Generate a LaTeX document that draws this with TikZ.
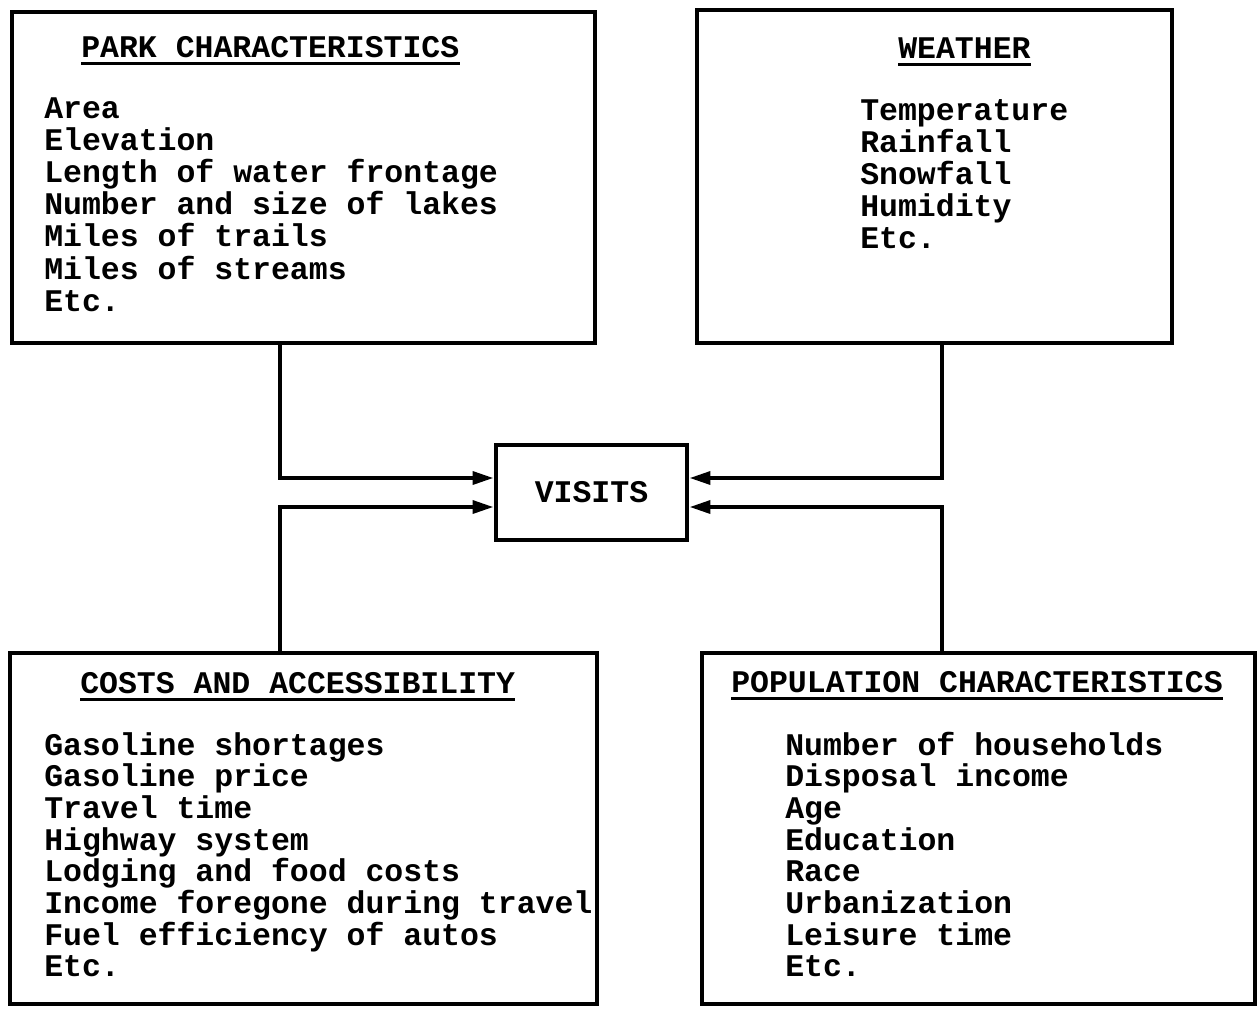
\documentclass[tikz,border=0pt]{standalone}
\usepackage{fontspec}
\setmonofont{Liberation Mono}
\usetikzlibrary{arrows.meta}
\begin{document}
\begin{tikzpicture}[x=0.025cm,y=-0.025cm,
  box/.style={draw, line width=3.4pt, rectangle, inner sep=0pt},
  txt/.style={font=\ttfamily\bfseries\fontsize{22.4}{26}\selectfont, inner sep=0pt, anchor=base west},
  conn/.style={line width=3pt, -{Triangle[length=15pt,width=9pt]}},
  uline/.style={line width=2.2pt}]
\useasboundingbox (0,0) rectangle (1260,1008);
\fill[white] (0,0) rectangle (1260,1008);

% boxes
\node[box, minimum width=14.575cm, minimum height=8.275cm] (park) at (303.5,177.5) {};
\node[box, minimum width=11.875cm, minimum height=8.325cm] (weather) at (934.5,176.5) {};
\node[box, minimum width=14.675cm, minimum height=8.775cm] (costs) at (303.5,828.5) {};
\node[box, minimum width=13.825cm, minimum height=8.775cm] (pop) at (978.5,828.5) {};
\node[box, line width=3.2pt, minimum width=4.775cm, minimum height=2.375cm,
      font=\ttfamily\bfseries\fontsize{22.4}{26}\selectfont] (visits) at (591.5,492.5) {VISITS};

% headings
\node[txt] (parkhead) at (81,57) {PARK CHARACTERISTICS};
\node[txt] (weatherhead) at (898,58) {WEATHER};
\node[txt] (costshead) at (80,693) {COSTS AND ACCESSIBILITY};
\node[txt] (pophead) at (731,692) {POPULATION CHARACTERISTICS};
\foreach \h in {parkhead,weatherhead,costshead,pophead}
  \draw[uline] ([yshift=-0.165cm]\h.base west) -- ([yshift=-0.165cm]\h.base east);

% body texts
\foreach \t [count=\i] in {Area,Elevation,Length of water frontage,Number and size of lakes,Miles of trails,Miles of streams,Etc.}
  \node[txt] (park-\i) at (44,{118+32.2*(\i-1)}) {\t};
\foreach \t [count=\i] in {Temperature,Rainfall,Snowfall,Humidity,Etc.}
  \node[txt] (weather-\i) at (860,{120+32*(\i-1)}) {\t};
\foreach \t [count=\i] in {Gasoline shortages,Gasoline price,Travel time,Highway system,Lodging and food costs,Income foregone during travel,Fuel efficiency of autos,Etc.}
  \node[txt] (costs-\i) at (44,{755+31.7*(\i-1)}) {\t};
\foreach \t [count=\i] in {Number of households,Disposal income,Age,Education,Race,Urbanization,Leisure time,Etc.}
  \node[txt] (pop-\i) at (785,{755+31.7*(\i-1)}) {\t};

% connectors
\coordinate (lx) at (280,0);
\coordinate (rx) at (942,0);
\draw[conn] (park.south -| lx) |- ([yshift=0.3625cm]visits.west);
\draw[conn] (costs.north -| lx) |- ([yshift=-0.3625cm]visits.west);
\draw[conn] (weather.south -| rx) |- ([yshift=0.3625cm]visits.east);
\draw[conn] (pop.north -| rx) |- ([yshift=-0.3625cm]visits.east);
\end{tikzpicture}
\end{document}
